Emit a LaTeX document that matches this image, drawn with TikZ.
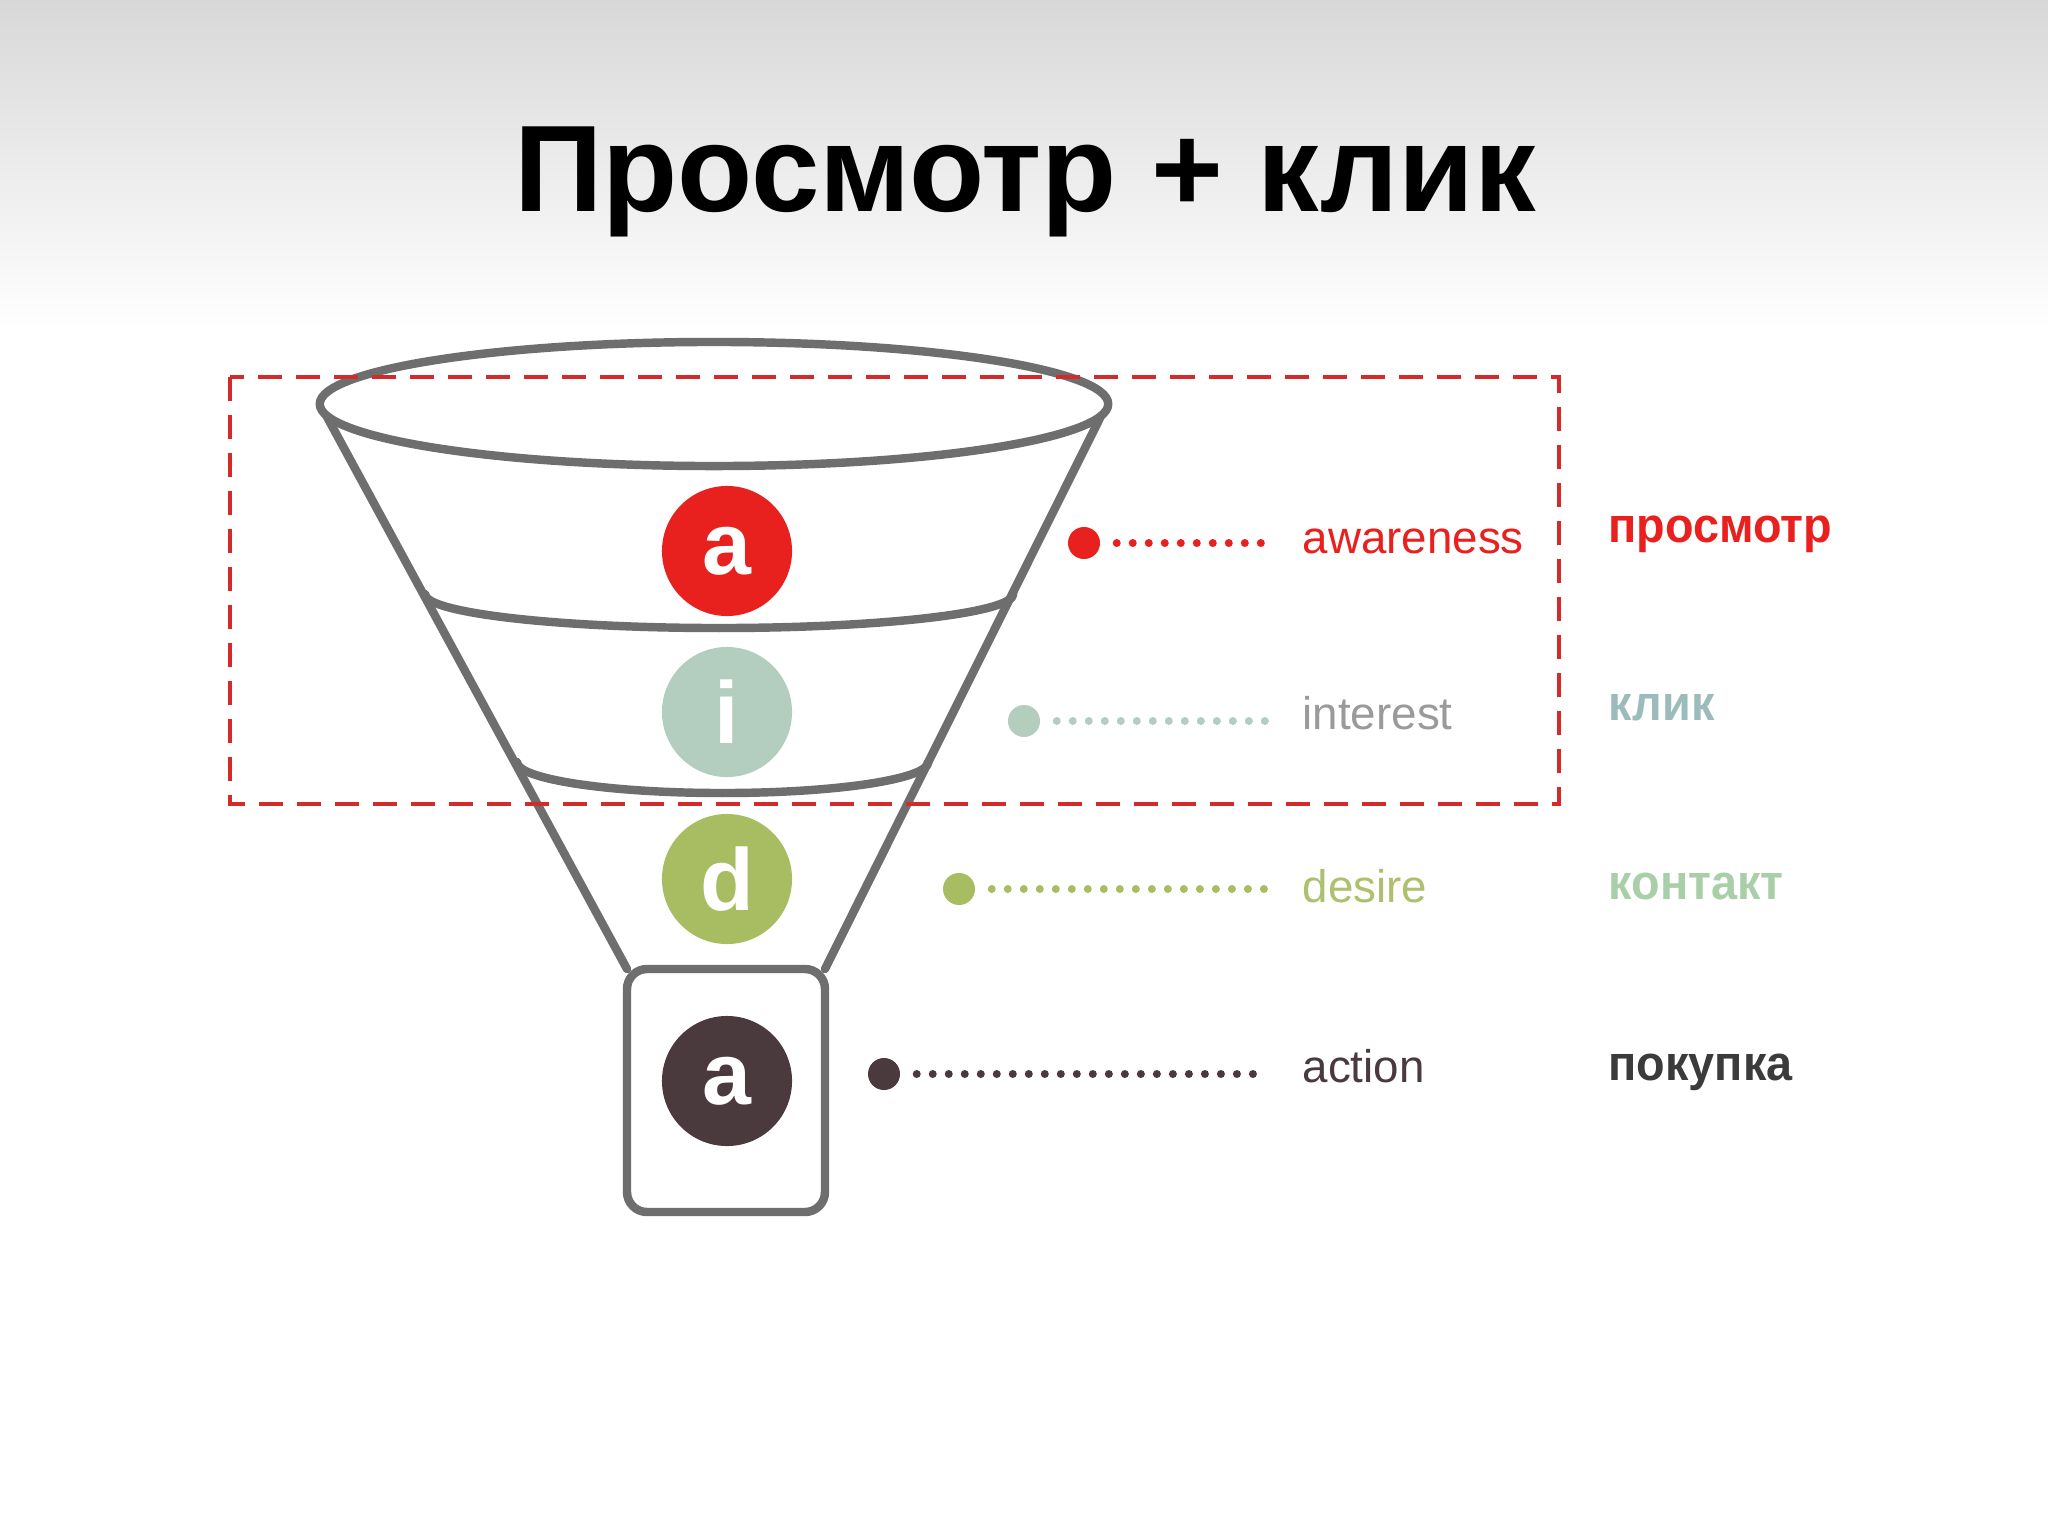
\documentclass[tikz,border=0pt]{standalone}
\usepackage{fontspec}
\setmainfont{Liberation Sans}
\newfontfamily\labelfont{Liberation Sans}
\newfontfamily\metricfont[FakeStretch=0.95]{Liberation Sans}
\usetikzlibrary{calc}

\definecolor{titlegray}{HTML}{D8D8D8}
\definecolor{funnelgray}{HTML}{6E6E6E}
\definecolor{framered}{HTML}{D42A2A}
\definecolor{awared}{HTML}{E8211E}
\definecolor{intsage}{HTML}{B3CDBF}
\definecolor{desolive}{HTML}{A8BD62}
\definecolor{actdark}{HTML}{4A3A3E}
\definecolor{inttext}{HTML}{9A9A9A}
\definecolor{destext}{HTML}{ADC06E}
\definecolor{clickblue}{HTML}{9CBCBC}
\definecolor{contgreen}{HTML}{A9CFA9}
\definecolor{buydark}{HTML}{3B3B3B}

\begin{document}
\begin{tikzpicture}[x=0.01cm,y=-0.01cm,font=\fontsize{14}{16}\selectfont]
    \tikzstyle{funnel line}=[draw=funnelgray,line width=2.4pt,line join=round,line cap=round]
    \tikzstyle{stage node}=[circle,minimum size=1.3cm,inner sep=0,text=white,font=\fontsize{25}{28}\selectfont\bfseries]
    \tikzstyle{solid dot}=[circle,minimum size=0.32cm,inner sep=0]
    \tikzstyle{dot line}=[line width=0.08cm,line cap=round,dash pattern=on 0pt off 0.16cm,shorten <=0.16cm,shorten >=0.36cm]
    \tikzstyle{stage label}=[anchor=base west,inner sep=0,font=\fontsize{13}{15}\labelfont]
    \tikzstyle{metric label}=[anchor=base west,inner sep=0,font=\fontsize{14}{16}\metricfont\bfseries]

    \useasboundingbox (0,0) rectangle (2048,1536);
    \fill[white] (0,320) rectangle (2048,1536);
    \shade[top color=titlegray,bottom color=white] (0,0) rectangle (2048,330);

    \node(title)[anchor=base,inner sep=0] at (1025,211) {\fontsize{35}{40}\selectfont\bfseries Просмотр + клик};

    \draw[funnel line] (320,404) -- (627,969);
    \draw[funnel line] (1107,404) -- (825,969);
    \draw[funnel line,fill=white] (714,404) ellipse [x radius=3.94cm,y radius=0.62cm];
    \draw[funnel line] (425,594) arc[start angle=180,end angle=360,x radius=2.94cm,y radius=0.34cm];
    \draw[funnel line] (517,762) arc[start angle=180,end angle=360,x radius=2.055cm,y radius=0.31cm];
    \draw[funnel line,rounded corners=0.2cm] (627,969) rectangle (825,1212);

    \node(aware)[stage node,fill=awared] at (727,551) {a};
    \node(interest)[stage node,fill=intsage] at (727,712) {i};
    \node(desire)[stage node,fill=desolive] at (727,879) {d};
    \node(action)[stage node,fill=actdark] at (727,1081) {a};

    \node(dotA)[solid dot,fill=awared] at (1084,543) {};
    \node(dotI)[solid dot,fill=intsage] at (1024,721) {};
    \node(dotD)[solid dot,fill=desolive] at (959,889) {};
    \node(dotB)[solid dot,fill=actdark] at (884,1074) {};

    \node(txtA)[stage label,text=awared] at (1302,553) {awareness};
    \node(txtI)[stage label,text=inttext] at (1302,729) {interest};
    \node(txtD)[stage label,text=destext] at (1302,902) {desire};
    \node(txtB)[stage label,text=actdark] at (1302,1082) {action};

    \draw[dot line,awared] (dotA) -- (dotA -| txtA.west);
    \draw[dot line,intsage] (dotI) -- (dotI -| txtI.west);
    \draw[dot line,desolive] (dotD) -- (dotD -| txtD.west);
    \draw[dot line,actdark] (dotB) -- (dotB -| txtB.west);

    \node(view)[metric label,text=awared] at (1608,542) {просмотр};
    \node(click)[metric label,text=clickblue] at (1608,720) {клик};
    \node(contact)[metric label,text=contgreen] at (1608,899) {контакт};
    \node(buy)[metric label,text=buydark] at (1608,1080) {покупка};

    \draw[framered,line width=1.4pt,dash pattern=on 0.24cm off 0.14cm] (230,377) rectangle (1559,804);
\end{tikzpicture}
\end{document}
